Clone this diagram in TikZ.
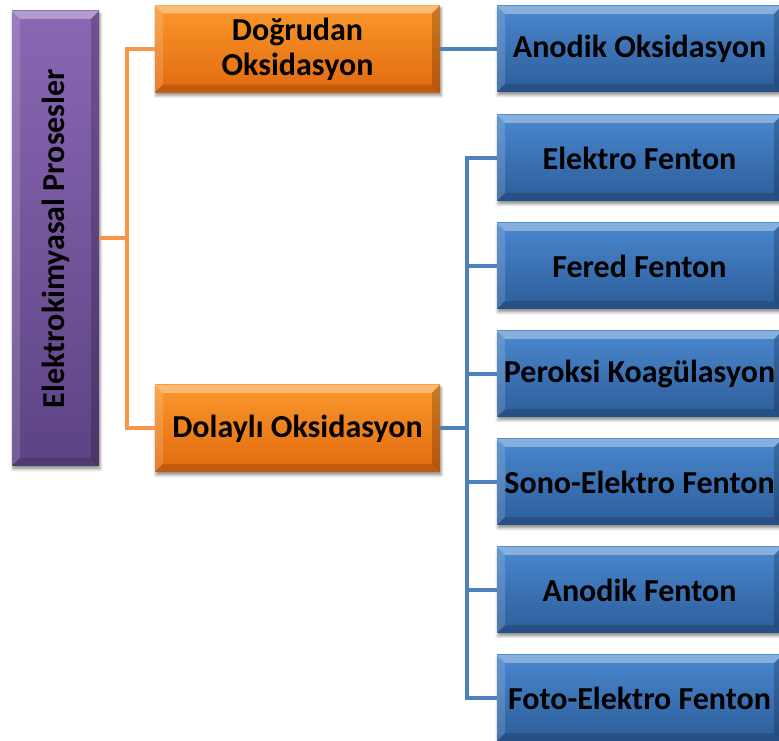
\documentclass[tikz,border=0pt]{standalone}
\usepackage{fontspec}
\setmainfont{Carlito}
\usetikzlibrary{shadows.blur}

\definecolor{orTop}{HTML}{FA982C}
\definecolor{orBot}{HTML}{E2690F}
\definecolor{puTop}{HTML}{8B67B3}
\definecolor{puBot}{HTML}{5C4384}
\definecolor{blTop}{HTML}{4A88CE}
\definecolor{blBot}{HTML}{2C5D9A}
\definecolor{orLine}{HTML}{F79646}
\definecolor{blLine}{HTML}{4F81BD}

\tikzset{
  bevel/.style={path picture={
    \fill[white,opacity=.35]
      (path picture bounding box.north west) -- (path picture bounding box.north east)
      -- ([xshift=-#1,yshift=-#1]path picture bounding box.north east)
      -- ([xshift=#1,yshift=-#1]path picture bounding box.north west) -- cycle;
    \fill[white,opacity=.15]
      (path picture bounding box.north west) -- (path picture bounding box.south west)
      -- ([xshift=#1,yshift=#1]path picture bounding box.south west)
      -- ([xshift=#1,yshift=-#1]path picture bounding box.north west) -- cycle;
    \fill[black,opacity=.15]
      (path picture bounding box.south west) -- (path picture bounding box.south east)
      -- ([xshift=-#1,yshift=#1]path picture bounding box.south east)
      -- ([xshift=#1,yshift=#1]path picture bounding box.south west) -- cycle;
    \fill[black,opacity=.2]
      (path picture bounding box.north east) -- (path picture bounding box.south east)
      -- ([xshift=-#1,yshift=#1]path picture bounding box.south east)
      -- ([xshift=-#1,yshift=-#1]path picture bounding box.north east) -- cycle;
  }},
  boxbase/.style={rectangle, inner sep=0pt, align=center, text=black,
    font=\bfseries\fontsize{32}{35}\selectfont, bevel=8pt,
    blur shadow={shadow xshift=1pt, shadow yshift=-3pt,
      shadow blur radius=3pt, shadow opacity=45}},
  rootbox/.style={boxbase, minimum width=87pt, minimum height=455pt,
    top color=puTop, bottom color=puBot},
  midbox/.style={boxbase, minimum width=285pt, minimum height=87pt,
    top color=orTop, bottom color=orBot},
  leafbox/.style={boxbase, minimum width=285pt, minimum height=86pt,
    top color=blTop, bottom color=blBot},
  oline/.style={draw=orLine, line width=4pt},
  bline/.style={draw=blLine, line width=4pt},
}

\begin{document}
\begin{tikzpicture}[x=1pt,y=1pt]
\useasboundingbox (0,0) rectangle (779,741);

\coordinate (obus) at (127,502.5);
\coordinate (bbus) at (467,312.5);

% root
\node[rootbox] (root) at (55.5,502.5)
  {\rotatebox{90}{Elektrokimyasal Prosesler}};

% second level
\node[midbox] (direct) at (297.5,692) {Doğrudan\\Oksidasyon};
\node[midbox] (indirect) at (297.5,312.5) {Dolaylı Oksidasyon};

% leaves
\node[leafbox] (anox) at (639.5,692) {Anodik Oksidasyon};
\node[leafbox] (ef)   at (639.5,583) {Elektro Fenton};
\node[leafbox] (fer)  at (639.5,475) {Fered Fenton};
\node[leafbox] (pk)   at (639.5,367) {Peroksi Koagülasyon};
\node[leafbox] (sef)  at (639.5,259) {Sono-Elektro Fenton};
\node[leafbox] (af)   at (639.5,151) {Anodik Fenton};
\node[leafbox] (fef)  at (639.5,43)  {Foto-Elektro Fenton};

% orange tree
\draw[oline] (root.east) -- (obus);
\draw[oline] (direct.west) -| (obus) |- (indirect.west);

% blue tree
\draw[bline] (direct.east) -- (anox.west);
\draw[bline] (indirect.east) -- (bbus);
\draw[bline] (ef.west) -| (bbus) |- (fef.west);
\draw[bline] (fer.west) -| (bbus);
\draw[bline] (pk.west) -| (bbus);
\draw[bline] (sef.west) -| (bbus);
\draw[bline] (af.west) -| (bbus);
\end{tikzpicture}
\end{document}
